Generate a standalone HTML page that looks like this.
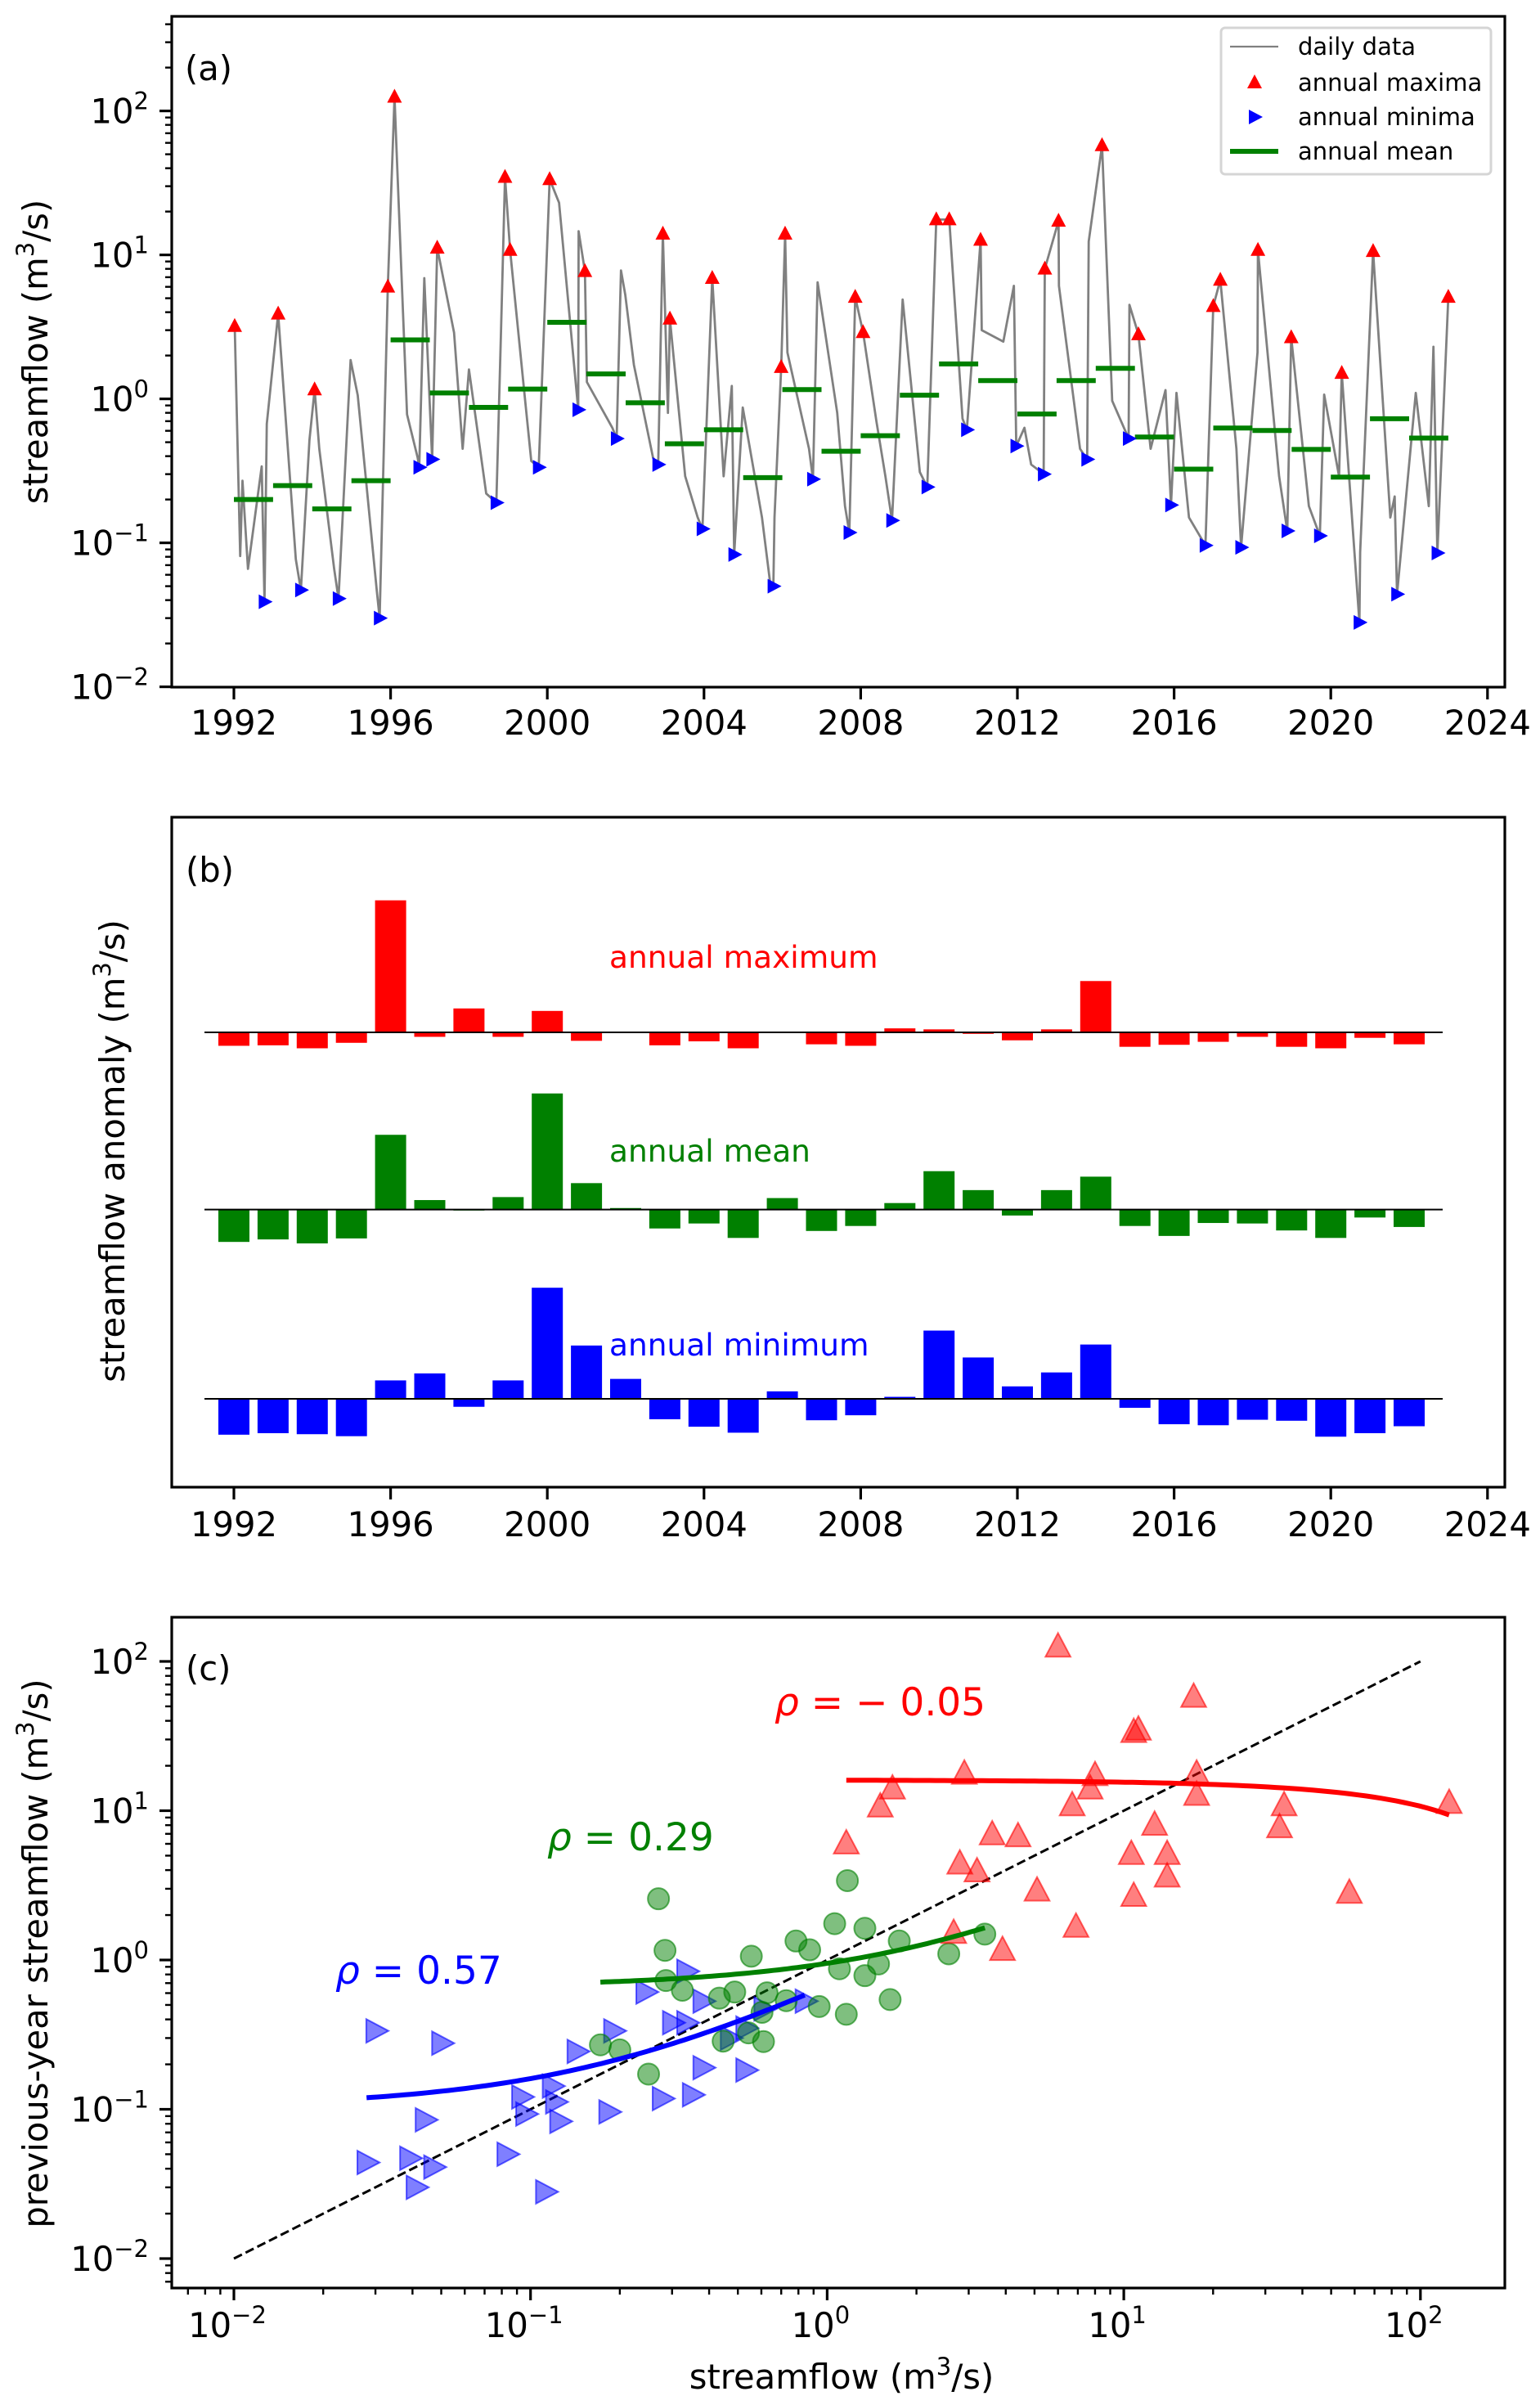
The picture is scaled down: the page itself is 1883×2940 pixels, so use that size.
<!DOCTYPE html>
<html><head><meta charset="utf-8">
<style>
html,body{margin:0;padding:0;background:#fff;}
svg{display:block;font-family:"DejaVu Sans","Liberation Sans",sans-serif;}
</style></head>
<body>
<svg id="fig" width="1883" height="2940" viewBox="0 0 1883 2940" xmlns="http://www.w3.org/2000/svg">
<rect x="0" y="0" width="1883" height="2940" fill="#fff"/>
<g id="pa"></g>
<g id="pb"></g>
<g id="pc"></g>
</svg>
<script>
// ---------- data ----------
const years = [1992,1993,1994,1995,1996,1997,1998,1999,2000,2001,2002,2003,2004,2005,2006,2007,2008,2009,2010,2011,2012,2013,2014,2015,2016,2017,2018,2019,2020,2021,2022];
const annualMean = [0.20,0.25,0.172,0.27,2.57,1.10,0.873,1.17,3.4,1.49,0.94,0.488,0.61,0.284,1.16,0.433,0.555,1.06,1.75,1.34,0.785,1.34,1.63,0.543,0.325,0.627,0.603,0.446,0.286,0.728,0.534];
const maxDates = [1992.02,1993.13,1994.06,1995.93,1996.10,1997.19,1998.92,1999.05,2000.06,2000.96,2002.95,2003.13,2004.21,2005.97,2006.07,2007.86,2008.06,2009.93,2010.26,2011.06,2012.70,2013.05,2014.16,2015.09,2017.00,2017.18,2018.14,2018.99,2020.28,2021.08,2023.00];
const maxValues = [3.2,3.9,1.16,6.0,125,11.2,34.7,10.8,33.5,7.7,14,3.6,6.9,1.66,14,5.1,2.9,17.6,17.6,12.7,8.0,17.2,57.6,2.8,4.4,6.7,10.8,2.67,1.51,10.6,5.1];
const minDates = [1992.78,1993.71,1994.67,1995.72,1996.73,1997.06,1998.70,1999.78,2000.79,2001.77,2002.83,2003.96,2004.77,2005.77,2006.78,2007.71,2008.80,2009.70,2010.71,2011.97,2012.67,2013.78,2014.84,2015.92,2016.80,2017.71,2018.89,2019.72,2020.73,2021.69,2022.72];
const minValues = [0.039,0.047,0.041,0.030,0.335,0.38,0.19,0.335,0.84,0.53,0.35,0.125,0.083,0.050,0.277,0.118,0.143,0.244,0.61,0.47,0.30,0.38,0.53,0.183,0.096,0.093,0.121,0.112,0.028,0.044,0.085];
// additional daily-trace knots
const spikeDates = [1992.16,1992.22,1992.36,1992.71,1992.84,1993.58,1993.93,1994.18,1994.56,1994.98,1995.16,1995.65,1996.15,1996.42,1996.69,1996.86,1997.62,1997.84,1998.0,1998.44,1998.82,1999.4,1999.59,2000.30,2000.8,2001.01,2001.66,2001.88,2001.99,2002.21,2002.70,2003.08,2003.52,2003.84,2004.50,2004.71,2004.99,2005.48,2005.70,2005.80,2006.13,2006.68,2006.9,2007.4,2007.6,2008.4,2008.63,2009.07,2009.51,2010.60,2011.09,2011.64,2011.91,2012.18,2012.35,2013.06,2013.60,2013.82,2014.42,2014.86,2015.40,2015.78,2016.06,2016.38,2017.59,2018.13,2018.68,2019.44,2019.83,2020.21,2020.75,2021.52,2021.63,2022.17,2022.50,2022.62];
const spikeValues = [0.081,0.27,0.066,0.34,0.67,0.077,0.52,0.45,0.066,1.86,1.06,0.046,55,0.78,0.39,6.9,2.88,0.45,1.6,0.22,3.1,1.2,0.37,23,14.6,1.31,0.63,7.8,5.3,1.72,0.39,0.80,0.29,0.15,0.29,1.23,0.87,0.15,0.05,0.15,2.1,0.45,6.45,0.8,0.18,0.7,0.29,4.9,0.31,0.73,3.0,2.5,6.1,0.63,0.35,6.1,0.45,12.4,0.97,4.5,0.45,1.15,1.1,0.15,0.45,2.1,0.29,0.18,1.07,0.29,0.086,0.15,0.21,1.1,0.18,2.3];
// panel b anomalies (relative units, per group)
const anomMax = [-27,-26,-32,-21,265,-9,48,-9,43,-17,0,-26,-18,-32,0,-24,-27,8,6,-3,-16,6,103,-29,-25,-19,-9,-29,-32,-11,-24];
const anomMean = [-65,-60,-68,-58,150,19,-2,25,233,53,3,-38,-28,-57,23,-43,-33,13,77,39,-12,39,66,-33,-53,-27,-28,-42,-57,-16,-35];
const anomMin = [-72,-69,-71,-75,37,51,-16,37,223,107,40,-41,-56,-68,15,-43,-33,4,137,83,25,53,109,-18,-51,-53,-42,-44,-76,-69,-55];
const yearTicks = [1992,1996,2000,2004,2008,2012,2016,2020,2024];
const decadeTicksA = [-2,-1,0,1,2];
const decadeTicksC = [-2,-1,0,1,2];
const rhoLabels = ["\u2212 0.05","0.29","0.57"];

// ---------- helpers ----------
const NS="http://www.w3.org/2000/svg";
function el(parent,tag,attrs){const e=document.createElementNS(NS,tag);for(const k in attrs)e.setAttribute(k,attrs[k]);parent.appendChild(e);return e;}
const L10=Math.log10;
const pa=document.getElementById('pa'),pb=document.getElementById('pb'),pc=document.getElementById('pc');
const AX_L=210, AX_R=1840;
function xYear(y){return 286+(y-1992)*47.9;}
function yA(v){return 487.6-176*L10(v);}
const A_T=20,A_B=840;
function xC(v){return 286+(L10(v)+2)*362.7;}
function yC(v){return 2761-(L10(v)+2)*182.5;}
const C_T=1977,C_B=2797;
const B_T=999,B_B=1818;

function powLabel(g,x,y,exp,anchor){
  const t=el(g,'text',{x:x,y:y,'font-size':41.7,'text-anchor':anchor,fill:'#000'});
  
  
  t.appendChild(document.createTextNode('10'));
  const s=el(t,'tspan',{'font-size':29,dy:-17});
  s.textContent=(exp<0?'\u2212':'')+Math.abs(exp);
  return t;
}
function frame(g,t,b,name){
  const r=el(g,'rect',{x:AX_L,y:t,width:AX_R-AX_L,height:b-t,fill:'none',stroke:'#000','stroke-width':3.2});
  
  
}
function yearAxis(g,b,labY){
  for(const yr of yearTicks){
    const x=xYear(yr);
    const tk=el(g,'line',{x1:x,x2:x,y1:b,y2:b+15,stroke:'#000','stroke-width':3.2});
    
    
    const t=el(g,'text',{x:x,y:labY,'font-size':41.7,'text-anchor':'middle'});
    
    
    t.textContent=yr;
  }
}
function logYAxis(g,decs,yf,t,b){
  for(const d of decs){
    const y=yf(Math.pow(10,d));
    const tk=el(g,'line',{x1:AX_L,x2:AX_L-15,y1:y,y2:y,stroke:'#000','stroke-width':3.2});
    
    
    powLabel(g,AX_L-28,y+15,d,'end');
  }
  for(let d=-3;d<=3;d++)for(let m=2;m<=9;m++){
    const y=yf(m*Math.pow(10,d));
    if(y<t+1||y>b-1)continue;
    const tk=el(g,'line',{x1:AX_L,x2:AX_L-8,y1:y,y2:y,stroke:'#000','stroke-width':2.4});
    
    
  }
}
function ylabel(g,x,y,txt,name){
  const t=el(g,'text',{x:0,y:0,'font-size':41.7,'text-anchor':'middle',transform:`translate(${x},${y}) rotate(-90)`});
  
  
  t.appendChild(document.createTextNode(txt[0]));
  const s=el(t,'tspan',{'font-size':29,dy:-17});s.textContent='3';
  const r=el(t,'tspan',{dy:17});r.textContent=txt[1];
}
function triUp(g,cx,cy,r,attrs){return el(g,'polygon',Object.assign({points:`${cx},${cy-r} ${cx-r*0.9},${cy+r*0.7} ${cx+r*0.9},${cy+r*0.7}`},attrs));}
function triRight(g,cx,cy,r,attrs){return el(g,'polygon',Object.assign({points:`${cx+r},${cy} ${cx-r*0.7},${cy-r*0.9} ${cx-r*0.7},${cy+r*0.9}`},attrs));}

// ---------- panel a ----------
(function(){
  const g=pa;
  const pts=[];
  maxDates.forEach((d,i)=>pts.push([d,maxValues[i]]));
  minDates.forEach((d,i)=>pts.push([d,minValues[i]]));
  spikeDates.forEach((d,i)=>pts.push([d,spikeValues[i]]));
  pts.sort((a,b)=>a[0]-b[0]);
  const path=el(g,'polyline',{points:pts.map(p=>xYear(p[0]).toFixed(1)+','+yA(p[1]).toFixed(1)).join(' '),fill:'none',stroke:'#808080','stroke-width':2.8,'stroke-linejoin':'round'});
  
  
  years.forEach((y,i)=>{
    const ln=el(g,'line',{x1:xYear(y),x2:xYear(y+1),y1:yA(annualMean[i]),y2:yA(annualMean[i]),stroke:'#008000','stroke-width':6});
    
    
  });
  maxDates.forEach((d,i)=>{
    const m=triUp(g,xYear(d),yA(maxValues[i]),10,{fill:'#ff0000'});
    
    
  });
  minDates.forEach((d,i)=>{
    const m=triRight(g,xYear(d),yA(minValues[i]),10,{fill:'#0000ff'});
    
    
  });
  frame(g,A_T,A_B,'panel-a-axes');
  yearAxis(g,A_B,898);
  logYAxis(g,decadeTicksA,yA,A_T,A_B);
  ylabel(g,58,430,['streamflow (m','/s)'],'y-axis-title-a');
  const lab=el(g,'text',{x:226,y:98,'font-size':41.7});
  
  
  lab.textContent='(a)';
  const lg=el(g,'g',{});
  
  
  const box=el(lg,'rect',{x:1493,y:34,width:330,height:179,rx:5,fill:'#fff',stroke:'#d5d5d5','stroke-width':3});
  
  
  const rows=[57,101,143,185],labels=['daily data','annual maxima','annual minima','annual mean'];
  const l1=el(lg,'line',{x1:1504,x2:1563,y1:57,y2:57,stroke:'#808080','stroke-width':2.2});
  
  
  const l2=triUp(lg,1534,101,10,{fill:'#ff0000'});
  
  
  const l3=triRight(lg,1534,143,10,{fill:'#0000ff'});
  
  
  const l4=el(lg,'line',{x1:1504,x2:1563,y1:185,y2:185,stroke:'#008000','stroke-width':6});
  
  
  rows.forEach((y,i)=>{
    const t=el(lg,'text',{x:1587,y:y+10,'font-size':29});
    
    
    t.textContent=labels[i];
  });
})();

// ---------- panel b ----------
(function(){
  const g=pb;
  const groups=[
    {vals:anomMax,base:1262,color:'#ff0000',name:'annual-maximum',label:'annual maximum',ly:1183},
    {vals:anomMean,base:1478.6,color:'#008000',name:'annual-mean',label:'annual mean',ly:1420},
    {vals:anomMin,base:1710,color:'#0000ff',name:'annual-minimum',label:'annual minimum',ly:1657}
  ];
  const k=1/1.642;
  for(const gr of groups){
    years.forEach((y,i)=>{
      const v=gr.vals[i]*k;
      if(v===0)return;
      const r=el(g,'rect',{x:xYear(y)-19,width:38,y:v>0?gr.base-v:gr.base,height:Math.abs(v),fill:gr.color});
      
      
    });
    const bl=el(g,'line',{x1:250,x2:1764,y1:gr.base,y2:gr.base,stroke:'#000','stroke-width':2});
    
    
    const t=el(g,'text',{x:745,y:gr.ly,'font-size':37.5,fill:gr.color});
    
    
    t.textContent=gr.label;
  }
  frame(g,B_T,B_B,'panel-b-axes');
  yearAxis(g,B_B,1878);
  ylabel(g,152,1407,['streamflow anomaly (m','/s)'],'y-axis-title-b');
  const lab=el(g,'text',{x:227,y:1078,'font-size':41.7});
  
  
  lab.textContent='(b)';
})();

// ---------- panel c ----------
(function(){
  const g=pc;
  const one=el(g,'line',{x1:xC(0.01),y1:yC(0.01),x2:xC(100),y2:yC(100),stroke:'#000','stroke-width':3,'stroke-dasharray':'11,5'});
  
  
  function pairs(a){const p=[];for(let i=0;i<a.length-1;i++)p.push([a[i],a[i+1]]);return p;}
  function fit(p){const n=p.length;let sx=0,sy=0,sxx=0,sxy=0;p.forEach(([x,y])=>{sx+=x;sy+=y;sxx+=x*x;sxy+=x*y;});const b=(n*sxy-sx*sy)/(n*sxx-sx*sx);return [(sy-b*sx)/n,b];}
  function drawFit(p,color,name){
    const [a,b]=fit(p);const xs=p.map(q=>q[0]);const x0=Math.min(...xs),x1=Math.max(...xs);
    const pts=[];for(let i=0;i<=80;i++){const x=x0*Math.pow(x1/x0,i/80);const y=a+b*x;if(y>0)pts.push(xC(x).toFixed(1)+','+yC(y).toFixed(1));}
    const pl=el(g,'polyline',{points:pts.join(' '),fill:'none',stroke:color,'stroke-width':6});
    
    
  }
  const pMax=pairs(maxValues),pMean=pairs(annualMean),pMin=pairs(minValues);
  pMin.forEach(([x,y])=>{
    const m=triRight(g,xC(x),yC(y),16,{fill:'rgba(0,0,255,0.5)',stroke:'rgba(0,0,255,0.6)','stroke-width':2});
    
    
  });
  pMean.forEach(([x,y])=>{
    const m=el(g,'circle',{cx:xC(x),cy:yC(y),r:13,fill:'rgba(0,128,0,0.5)',stroke:'rgba(0,128,0,0.6)','stroke-width':2});
    
    
  });
  pMax.forEach(([x,y])=>{
    const m=triUp(g,xC(x),yC(y),17,{fill:'rgba(255,0,0,0.5)',stroke:'rgba(255,0,0,0.6)','stroke-width':2});
    
    
  });
  drawFit(pMin,'#0000ff','minimum-fit-curve');
  drawFit(pMean,'#008000','mean-fit-curve');
  drawFit(pMax,'#ff0000','maximum-fit-curve');
  const rho=[[947,2097,'#ff0000',0,'rho-maximum'],[669,2262,'#008000',1,'rho-mean'],[410,2425,'#0000ff',2,'rho-minimum']];
  for(const [x,y,c,i,n] of rho){
    const t=el(g,'text',{x:x,y:y,'font-size':47,fill:c});
    
    
    const r=el(t,'tspan',{'font-style':'italic'});r.textContent='\u03c1';
    const s=el(t,'tspan',{});s.textContent=' = '+rhoLabels[i];
  }
  frame(g,C_T,C_B,'panel-c-axes');
  logYAxis(g,decadeTicksC,yC,C_T,C_B);
  for(const d of decadeTicksC){
    const x=xC(Math.pow(10,d));
    const tk=el(g,'line',{x1:x,x2:x,y1:C_B,y2:C_B+15,stroke:'#000','stroke-width':3.2});
    
    
    powLabel(g,x-8,2857,d,'middle');
  }
  for(let d=-3;d<=2;d++)for(let m=2;m<=9;m++){
    const x=xC(m*Math.pow(10,d));
    if(x<AX_L+1||x>AX_R-1)continue;
    const tk=el(g,'line',{x1:x,x2:x,y1:C_B,y2:C_B+8,stroke:'#000','stroke-width':2.4});
    
    
  }
  ylabel(g,58,2388,['previous-year streamflow (m','/s)'],'y-axis-title-c');
  const xl=el(g,'text',{x:1029,y:2920,'font-size':41.7,'text-anchor':'middle'});
  
  
  xl.appendChild(document.createTextNode('streamflow (m'));
  const s=el(xl,'tspan',{'font-size':29,dy:-17});s.textContent='3';
  const r=el(xl,'tspan',{dy:17});r.textContent='/s)';
  const lab=el(g,'text',{x:227,y:2054,'font-size':41.7});
  
  
  lab.textContent='(c)';
})();
</script>
</body></html>
